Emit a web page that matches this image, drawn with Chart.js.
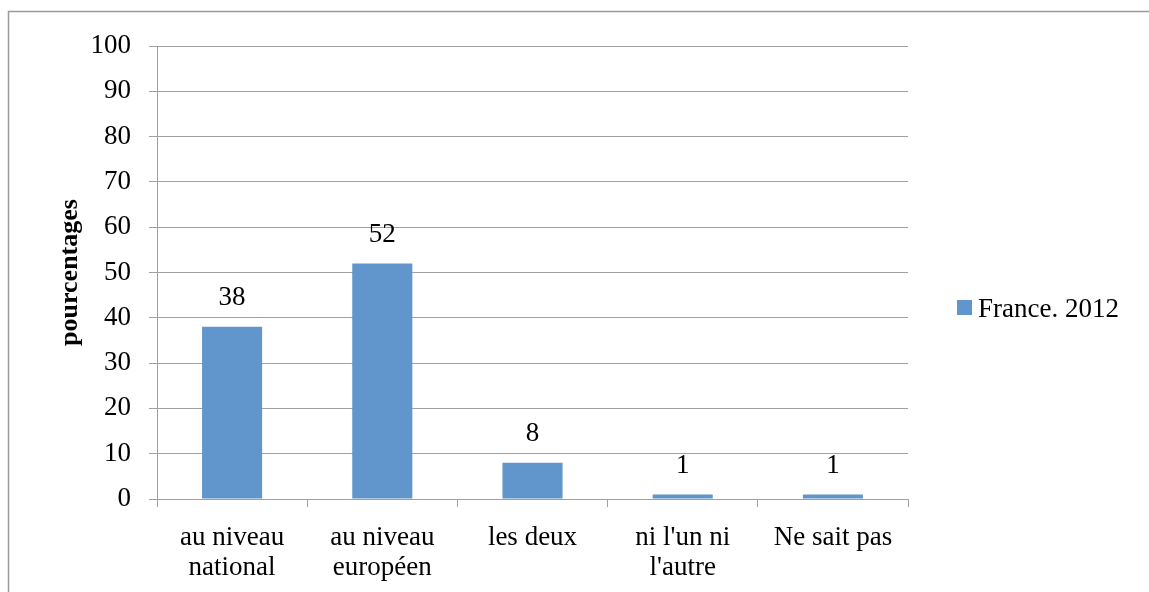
<!DOCTYPE html>
<html>
<head>
<meta charset="utf-8">
<script src="https://cdn.jsdelivr.net/npm/chart.js@4/dist/chart.umd.min.js"></script>
<style>
  html, body { margin: 0; padding: 0; background: #fff; overflow: hidden; }
  #wrap { position: relative; width: 1149px; height: 592px; }
</style>
</head>
<body>
<div id="wrap"><canvas id="chart" width="1149" height="592"></canvas></div>
<script>
const categories = [['au niveau', 'national'], ['au niveau', 'européen'], 'les deux', ['ni l\'un ni', 'l\'autre'], 'Ne sait pas'];
const values     = [38, 52, 8, 1, 1];
const seriesName = 'France. 2012';
const yTicks     = [0, 10, 20, 30, 40, 50, 60, 70, 80, 90, 100];

const barColor  = '#6096CB';
const gridColor = '#A0A0A0';
const serif     = '"Liberation Serif", "Times New Roman", serif';

// frame, value labels and legend
const extras = {
    id: 'extras',
    afterDraw(chart) {
        const ctx = chart.ctx;
        const area = chart.chartArea;
        ctx.save();

        ctx.strokeStyle = '#9A9A9A';
        ctx.lineWidth = 1.5;
        ctx.beginPath();
        ctx.moveTo(8.5, 592);
        ctx.lineTo(8.5, 11.5);
        ctx.lineTo(1149, 11.5);
        ctx.stroke();

        ctx.fillStyle = '#000';
        ctx.font = '27px ' + serif;
        ctx.textAlign = 'center';
        ctx.textBaseline = 'middle';
        const meta = chart.getDatasetMeta(0);
        meta.data.forEach((bar, i) => {
            ctx.fillText(String(values[i]), bar.x, bar.y - 29);
        });

        const cy = (area.top + area.bottom) / 2 + 35;
        ctx.fillStyle = barColor;
        ctx.fillRect(957, cy - 7.5, 15, 15);
        ctx.fillStyle = '#000';
        ctx.textAlign = 'left';
        ctx.fillText(chart.data.datasets[0].label, 978, cy + 2);
        ctx.restore();
    }
};

new Chart(document.getElementById('chart'), {
    type: 'bar',
    data: {
        labels: categories,
        datasets: [{
            label: seriesName,
            data: values,
            backgroundColor: barColor,
            borderWidth: 0,
            barPercentage: 0.4,
            categoryPercentage: 1
        }]
    },
    options: {
        responsive: false,
        animation: false,
        layout: { padding: { top: 46, right: 241, bottom: 9, left: 0 } },
        plugins: { legend: { display: false }, tooltip: { enabled: false } },
        scales: {
            x: {
                grid: { display: true, drawOnChartArea: false, drawTicks: true, tickLength: 8, color: gridColor, lineWidth: 1 },
                border: { display: true, color: gridColor, width: 1 },
                ticks: { color: '#000', padding: 16, font: { family: serif, size: 27, lineHeight: 1.11 }, maxRotation: 0, autoSkip: false },
                afterFit(scale) { scale.height = 84; }
            },
            y: {
                min: 0,
                max: 100,
                afterBuildTicks(scale) { scale.ticks = yTicks.map(v => ({ value: v })); },
                grid: { color: gridColor, lineWidth: 1, tickLength: 8 },
                border: { display: true, color: gridColor, width: 1 },
                ticks: { color: '#000', padding: 18, font: { family: serif, size: 27 } },
                title: {
                    display: true,
                    text: 'pourcentages',
                    color: '#000',
                    font: { family: serif, size: 26, weight: 'bold' },
                    padding: { top: 55, bottom: 0 }
                },
                afterFit(scale) { scale.width = 157; }
            }
        }
    },
    plugins: [extras]
});
</script>
</body>
</html>
